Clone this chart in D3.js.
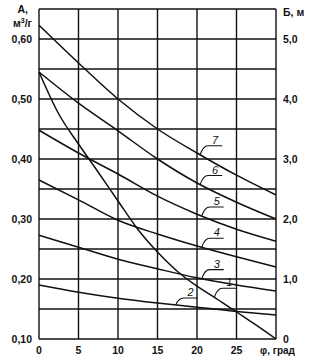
<!DOCTYPE html>
<html><head><meta charset="utf-8">
<script src="https://cdn.jsdelivr.net/npm/d3@7"></script>
<style>
body{margin:0;background:#fff;}
svg text{font-family:"Liberation Sans",Arial,sans-serif;fill:#111;}
</style></head>
<body><svg id="c" width="313" height="362"></svg>
<script>
// ---- data ----
const phi = [0, 5, 10, 15, 20, 25, 30];
const phi1 = [0, 2.5, 5, 7.5, 10, 12.5, 15, 17.5, 20, 22.5, 25, 27.5, 30];
const curve1 = [0.545, 0.475, 0.425, 0.378, 0.33, 0.283, 0.245, 0.213, 0.188, 0.167, 0.145, 0.123, 0.10];
const curve2 = [0.19, 0.178, 0.168, 0.16, 0.153, 0.146, 0.14];
const curve3 = [0.273, 0.253, 0.233, 0.217, 0.202, 0.19, 0.18];
const curve4 = [0.365, 0.332, 0.298, 0.275, 0.255, 0.237, 0.22];
const curve5 = [0.448, 0.41, 0.375, 0.338, 0.308, 0.283, 0.263];
const curve6 = [0.545, 0.493, 0.447, 0.40, 0.36, 0.328, 0.30];
const curve7 = [0.623, 0.56, 0.50, 0.45, 0.41, 0.373, 0.34];
const curveNames = ["1", "2", "3", "4", "5", "6", "7"];
const labelPhi = [22.2, 17.3, 20.6, 20.6, 20.6, 20.4, 20.4];
const xTicks = [0, 5, 10, 15, 20, 25];
const yTicksLeft = [0.10, 0.20, 0.30, 0.40, 0.50, 0.60];
const yTickLabelsLeft = ["0,10", "0,20", "0,30", "0,40", "0,50", "0,60"];
const yTicksRight = [0, 1, 2, 3, 4, 5];
const yTickLabelsRight = ["0", "1,0", "2,0", "3,0", "4,0", "5,0"];
const gridY = [0.10, 0.15, 0.20, 0.25, 0.30, 0.35, 0.40, 0.45, 0.50, 0.55, 0.60, 0.65];
const gridX = [0, 5, 10, 15, 20, 25, 30];

// ---- scales ----
const x = d3.scaleLinear().domain([0, 30]).range([39, 276]);
const y = d3.scaleLinear().domain([0.10, 0.65]).range([339, 9]);
const yR = d3.scaleLinear().domain([0, 5.5]).range([339, 9]);

const svg = d3.select("#c");

// grid
svg.append("g").selectAll("line").data(gridY).join("line")
  .attr("x1", x(0)).attr("x2", x(30))
  .attr("y1", d => y(d)).attr("y2", d => y(d))
  .attr("stroke", "#111").attr("stroke-width", 1.4);
svg.append("g").selectAll("line").data(gridX).join("line")
  .attr("x1", d => x(d)).attr("x2", d => x(d))
  .attr("y1", y(0.65)).attr("y2", y(0.10))
  .attr("stroke", "#111").attr("stroke-width", 1.4);

// curves
const series = [
  {xs: phi1, ys: curve1}, {xs: phi, ys: curve2}, {xs: phi, ys: curve3},
  {xs: phi, ys: curve4}, {xs: phi, ys: curve5}, {xs: phi, ys: curve6}, {xs: phi, ys: curve7}
];
const line = d3.line().x(d => x(d[0])).y(d => y(d[1])).curve(d3.curveMonotoneX);
series.forEach((s, i) => {
  const pts = s.xs.map((v, j) => [v, s.ys[j]]);
  svg.append("path").attr("d", line(pts)).attr("fill", "none")
    .attr("stroke", "#111").attr("stroke-width", 1.5);
  // label with leader
  const lp = labelPhi[i];
  const j = d3.bisectRight(s.xs, lp) - 1;
  const t = (lp - s.xs[j]) / (s.xs[j + 1] - s.xs[j]);
  const yv = s.ys[j] + t * (s.ys[j + 1] - s.ys[j]);
  const x0 = x(lp), y0 = y(yv);
  const dy = (i === 1) ? 7 : 9;
  svg.append("path")
    .attr("d", `M${x0},${y0} Q${x0 + 3},${y0 - dy} ${x0 + 8},${y0 - dy} L${x0 + 22},${y0 - dy}`)
    .attr("fill", "none").attr("stroke", "#111").attr("stroke-width", 1.1);
  svg.append("text").attr("x", x0 + 15).attr("y", y0 - dy - 2)
    .attr("text-anchor", "middle").attr("font-size", 11).attr("font-style", "italic")
    .text(curveNames[i]);
});

// left labels
svg.append("g").selectAll("text").data(yTicksLeft).join("text")
  .attr("x", 32).attr("y", d => y(d)).attr("dy", "0.35em")
  .attr("text-anchor", "end").attr("font-size", 10.5).attr("font-weight", "bold")
  .text((d, i) => yTickLabelsLeft[i]);
svg.append("text").attr("x", 28).attr("y", 13).attr("text-anchor", "end")
  .attr("font-size", 10.5).attr("font-weight", "bold").text("А,");
svg.append("text").attr("x", 32).attr("y", 27).attr("text-anchor", "end")
  .attr("font-size", 10.5).attr("font-weight", "bold")
  .html('м<tspan dy="-4" font-size="7">3</tspan><tspan dy="4">/г</tspan>');

// right labels
svg.append("g").selectAll("text").data(yTicksRight).join("text")
  .attr("x", 283).attr("y", d => yR(d)).attr("dy", "0.35em")
  .attr("text-anchor", "start").attr("font-size", 10.5).attr("font-weight", "bold")
  .text((d, i) => yTickLabelsRight[i]);
svg.append("text").attr("x", 283).attr("y", 16).attr("text-anchor", "start")
  .attr("font-size", 10.5).attr("font-weight", "bold").text("Б, м");

// bottom labels
svg.append("g").selectAll("text").data(xTicks).join("text")
  .attr("x", d => x(d)).attr("y", 354)
  .attr("text-anchor", "middle").attr("font-size", 10.5).attr("font-weight", "bold")
  .text(d => d);
svg.append("text").attr("x", 260).attr("y", 354).attr("text-anchor", "start")
  .attr("font-size", 10).attr("font-weight", "bold").text("φ, град");
</script></body></html>
